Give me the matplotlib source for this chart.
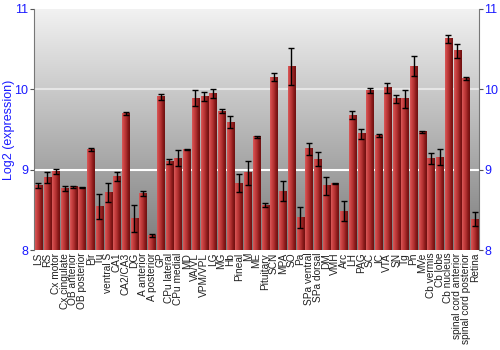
"""Log2 expression by brain region - bar chart with error bars."""

import matplotlib
matplotlib.use("Agg")
import matplotlib.pyplot as plt
import numpy as np
from matplotlib.colors import LinearSegmentedColormap

regions = ["LS", "RS", "Cx motor", "Cx cingulate", "OB anterior", "OB posterior",
           "Pir", "Tu", "ventral S", "CA1", "CA2/CA3", "DG", "A anterior",
           "A posterior", "GP", "CPu lateral", "CPu medial", "MD", "VA/VL",
           "VPM/VPL", "LG", "MG", "Hb", "Pineal", "M", "ME", "Pituitary", "SCN",
           "MPA", "SO", "Pa", "SPa ventral", "SPa dorsal", "DM", "VMH", "Arc",
           "LH", "PAG", "SC", "IC", "VTA", "SN", "Tg", "Pn", "MVe", "Cb vermis",
           "Cb lobe", "Cb nucleus", "spinal cord anterior", "spinal cord posterior",
           "Retina"]
expr = [8.80, 8.905, 8.98, 8.77, 8.785, 8.78, 9.25, 8.54, 8.72, 8.91, 9.70, 8.39,
        8.705, 8.18, 9.905, 9.10, 9.14, 9.25, 9.89, 9.91, 9.95, 9.73, 9.59, 8.83,
        8.96, 9.41, 8.56, 10.15, 8.73, 10.29, 8.41, 9.26, 9.13, 8.80, 8.83, 8.48,
        9.68, 9.445, 9.985, 9.43, 10.02, 9.88, 9.88, 10.29, 9.47, 9.14, 9.155,
        10.63, 10.48, 10.13, 8.38]
err = [0.03, 0.07, 0.03, 0.03, 0.01, 0.01, 0.02, 0.155, 0.12, 0.055, 0.02, 0.17,
       0.03, 0.02, 0.04, 0.03, 0.10, 0.01, 0.10, 0.06, 0.06, 0.03, 0.075, 0.11,
       0.145, 0.015, 0.02, 0.05, 0.125, 0.23, 0.13, 0.077, 0.09, 0.11, 0.01, 0.125,
       0.05, 0.058, 0.035, 0.02, 0.065, 0.048, 0.115, 0.12, 0.01, 0.068, 0.10,
       0.048, 0.085, 0.02, 0.087]

blue = "#1a1aff"
font = "Liberation Sans"
plt.rcParams["font.family"] = [font, "DejaVu Sans"]

fig = plt.figure(figsize=(5, 3.5), dpi=100)
ax = fig.add_axes([0.068, 0.2857, 0.89, 0.6886])

x = np.arange(len(regions))

# gray vertical gradient background
bg = LinearSegmentedColormap.from_list("bg", ["#7c7c7c", "#f2f2f2"])
ax.imshow(np.linspace(0, 1, 256).reshape(-1, 1), cmap=bg, origin="lower",
          extent=(0, 1, 0, 1), transform=ax.transAxes, aspect="auto", zorder=0)
ax.axhline(10, color="#e6e6e6", lw=1.5, zorder=1)
ax.axhline(9, color="white", lw=1.5, zorder=1)

# bars with cylinder-like red shading
bars = ax.bar(x, np.array(expr) - 8, bottom=8, width=0.82, color="none", zorder=2)
red = LinearSegmentedColormap.from_list(
    "red", ["#d85a5a", "#c84040", "#b03030", "#8a1a1a", "#6e1010"])
grad = np.linspace(0, 1, 64).reshape(1, -1)
for b in bars:
    x0, w, h = b.get_x(), b.get_width(), b.get_height()
    ax.imshow(grad, cmap=red, extent=(x0, x0 + w, 8, 8 + h), aspect="auto",
              zorder=2, interpolation="bilinear")
ax.set_xlim(-0.5, len(regions) - 0.5)
ax.set_ylim(8, 11)

ax.errorbar(x, expr, yerr=err, fmt="none", ecolor="black", elinewidth=1,
            capsize=2.2, capthick=1, zorder=3)

ax.set_xticks(x)
ax.set_xticklabels(regions, rotation=90, fontsize=7.3, color="#202020")
ax.tick_params(axis="x", length=0, pad=2)
ax.set_yticks([8, 9, 10, 11])
ax.tick_params(axis="y", labelsize=9, labelcolor=blue, color="#555555",
               length=3, pad=1, left=True, right=True, labelright=True)
ax.set_ylabel("Log2 (expression)", color=blue, fontsize=9)
ax.yaxis.set_label_coords(-0.043, 0.5)

for side in ["top", "bottom"]:
    ax.spines[side].set_visible(False)
for side in ["left", "right"]:
    ax.spines[side].set_color("#777777")

fig.savefig("out.png", dpi=100)
